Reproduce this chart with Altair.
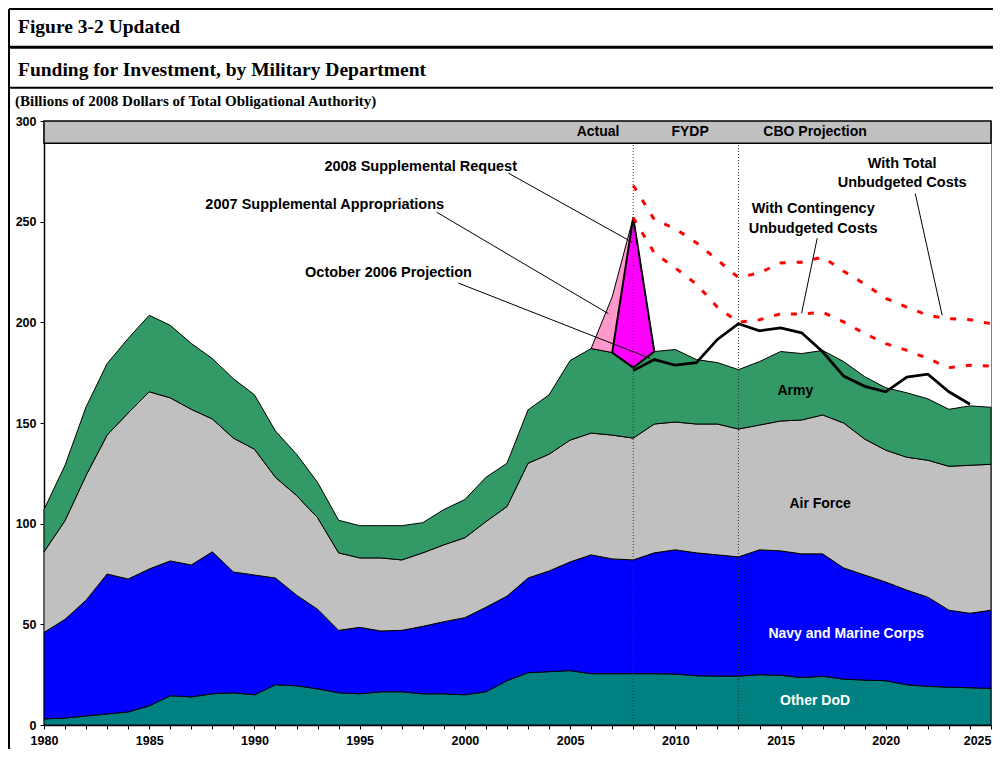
import altair as alt
import pandas as pd

# ---------------- data (cumulative tops, billions of 2008 dollars) ----------------
years = list(range(1980, 2026))
other_dod_top = [3, 3.5, 4.5, 5.5, 6.5, 9.5, 14.5, 14, 15.5, 16, 15, 20, 19.5, 18, 16, 15.5,
                 16.5, 16.5, 15.5, 15.5, 15, 16.5, 22, 26, 26.5, 27, 25.5, 25.5, 25.5, 25.5,
                 25.3, 24.5, 24.3, 24.3, 25, 24.7, 23.6, 24.2, 22.8, 22.3, 22, 20, 19.2, 18.8,
                 18.5, 18.2]
navy_top = [46, 52.5, 62, 75, 72.5, 77.5, 81.5, 79.5, 86, 76, 74.5, 73, 64.5, 57.5, 47, 48.5,
            46.7, 47, 49, 51.3, 53.3, 58.5, 64, 73, 76.5, 81, 84.5, 82.5, 82, 85.5, 87, 85.5,
            84.5, 83.5, 87, 86.5, 85, 85, 78, 74.5, 71, 67, 63.5, 57, 55.5, 57]
air_force_top = [86, 101.5, 124, 144, 155, 165.5, 162.5, 156.8, 152, 142.5, 137, 123, 114, 103,
                 85.5, 83, 83, 82, 85.5, 89.5, 93, 101, 108.5, 130, 134.5, 141.5, 145, 144,
                 142.5, 149.5, 150.5, 149.5, 149.5, 147, 149, 151, 151.5, 154, 150, 142, 136.5,
                 133, 131.5, 128.5, 129, 129.5]
army_top = [107, 129, 158, 179.5, 192, 203.5, 198.5, 189.5, 182, 172, 164, 146, 134.5, 120.5,
            101.7, 99, 99, 99, 100.5, 107, 112, 123, 130, 156.5, 164, 181, 187, 185, 177.5,
            185.5, 186.5, 181.5, 180, 176.5, 180.5, 185.5, 184.5, 186, 180.5, 173, 167.5, 165,
            162, 156.8, 158.5, 157.8]

supp07_years = [2006, 2007, 2008, 2009]
supp07_top = [187, 212.6, 252, 185.5]
supp08_years = [2007, 2008, 2009]
supp08_top = [185, 252, 185.5]

proj_years = list(range(2008, 2025))
oct2006_projection = [176, 181.5, 178.7, 180, 191.5, 199.3, 195.8, 197.2, 194.8, 185.4, 173.3,
                      168.2, 165.5, 172.8, 174.3, 165.5, 159.3]

red_years = list(range(2008, 2026))
with_total_unbudgeted = [268, 251, 246.5, 239.5, 231, 222.2, 224.6, 229.5, 229.9, 232.4, 225.4,
                         219, 211.9, 207.5, 203.5, 201.8, 201.3, 199.3]
with_contingency_unbudgeted = [252, 234.5, 227, 219, 207.5, 200, 201.3, 204.2, 204.2, 205, 200.2,
                               194.4, 189.4, 186.1, 182, 177.5, 178.7, 178.2]

period_breaks = [2008, 2013]
period_names = ["Actual", "FYDP", "CBO Projection"]
period_label_x = [2006.33, 2010.7, 2016.64]

region_names = ["Army", "Air Force", "Navy and Marine Corps", "Other DoD"]
region_x = [2015.7, 2016.88, 2018.12, 2016.64]
region_y = [165.8, 109.7, 45.2, 12.1]
region_colors = ["black", "black", "white", "white"]

note_texts = ["2008 Supplemental Request", "2007 Supplemental Appropriations",
              "October 2006 Projection", "With Contingency\nUnbudgeted Costs",
              "With Total\nUnbudgeted Costs"]
note_x = [1997.9, 1993.34, 1996.37, 2016.55, 2020.78]
note_y = [277.1, 258.1, 224.7, 256.1, 278.8]
leader_x1 = [2002.07, 1998.66, 1999.69, 2016.74, 2021.4]
leader_y1 = [274.1, 254.7, 219.5, 241.7, 264.0]
leader_x2 = [2007.93, 2006.82, 2008.8, 2016.0, 2022.68]
leader_y2 = [239.9, 204.3, 182.1, 204.5, 203.5]

y_ticks = [0, 50, 100, 150, 200, 250, 300]

# ---------------- tables ----------------
df = pd.DataFrame({"year": years, "zero": [0] * len(years), "other": other_dod_top,
                   "navy": navy_top, "af": air_force_top, "army": army_top})
army_map = dict(zip(years, army_top))
df07 = pd.DataFrame({"year": supp07_years, "top": supp07_top,
                     "base": [army_map[y] for y in supp07_years]})
df08 = pd.DataFrame({"year": supp08_years, "top": supp08_top,
                     "base": [army_map[y] for y in supp08_years]})
dfproj = pd.DataFrame({"year": proj_years, "v": oct2006_projection})
dfred = pd.concat([
    pd.DataFrame({"year": red_years, "v": with_total_unbudgeted, "s": "total"}),
    pd.DataFrame({"year": red_years, "v": with_contingency_unbudgeted, "s": "cont"}),
])
dfbreak = pd.DataFrame({"year": period_breaks, "lo": [0] * 2, "hi": [289] * 2})
dfband = pd.DataFrame({"x1": [1980], "x2": [2025], "y1": [289], "y2": [300]})
dfperiod = pd.DataFrame({"x": period_label_x, "y": [294.3] * 3, "t": period_names})
dfregion = pd.DataFrame({"x": region_x, "y": region_y, "t": region_names, "c": region_colors})
dfnote = pd.DataFrame({"x": note_x, "y": note_y, "t": note_texts})
dfleader = pd.DataFrame({"x1": leader_x1, "y1": leader_y1, "x2": leader_x2, "y2": leader_y2})
one = pd.DataFrame({"k": [0]})

# ---------------- scales / axes ----------------
xs = alt.Scale(domain=[1980, 2025], nice=False, zero=False)
ys = alt.Scale(domain=[0, 300], nice=False)
SANS = "Liberation Sans"
SERIF = "Liberation Serif"
xaxis = alt.Axis(values=years, title=None, grid=False, tickSize=4, tickColor="black",
                 domainColor="black", domainWidth=1.5, labelFont=SANS, labelFontWeight="bold",
                 labelFontSize=12.5, labelColor="black", labelPadding=5, labelFlush=False,
                 labelOverlap=False, labelExpr="datum.value % 5 == 0 ? datum.label : ''",
                 labelAlign={"condition": {"test": "datum.value == 2025", "value": "right"},
                             "value": "center"},
                 format="d")
yaxis = alt.Axis(values=y_ticks, title=None, grid=False, tickSize=4, tickColor="black",
                 domainColor="black", domainWidth=1.5, labelFont=SANS, labelFontWeight="bold",
                 labelFontSize=12.5, labelColor="black", labelPadding=4)


def X(f):
    return alt.X(f, type="quantitative", scale=xs, axis=xaxis)


def Y(f):
    return alt.Y(f, type="quantitative", scale=ys, axis=yaxis)


def layer_area(lo, hi, color):
    return alt.Chart(df).mark_area(fill=color, stroke="black", strokeWidth=1,
                                   strokeJoin="miter").encode(
        x=X("year"), y=Y(hi), y2=alt.Y2(lo))


areas = [layer_area("zero", "other", "#008080"),
         layer_area("other", "navy", "#0000FF"),
         layer_area("navy", "af", "#C0C0C0"),
         layer_area("af", "army", "#339966")]

pink = alt.Chart(df07).mark_area(fill="#FF99CC", stroke="black", strokeWidth=1).encode(
    x=X("year"), y=Y("top"), y2=alt.Y2("base"))
magenta = alt.Chart(df08).mark_area(fill="#FF00FF", stroke="black", strokeWidth=2).encode(
    x=X("year"), y=Y("top"), y2=alt.Y2("base"))

breaks = alt.Chart(dfbreak).mark_rule(color="#333333", strokeWidth=1, strokeDash=[1, 2]).encode(
    x=X("year"), y=Y("lo"), y2=alt.Y2("hi"))

proj = alt.Chart(dfproj).mark_line(color="black", strokeWidth=2.75).encode(x=X("year"), y=Y("v"))
red = alt.Chart(dfred).mark_line(color="#FF0000", strokeWidth=3, strokeDash=[6, 11],
                                 strokeCap="butt").encode(
    x=X("year"), y=Y("v"), detail="s:N")

leaders = alt.Chart(dfleader).mark_rule(color="black", strokeWidth=1).encode(
    x=X("x1"), y=Y("y1"), x2=alt.X2("x2"), y2=alt.Y2("y2"))

notes = alt.Chart(dfnote).mark_text(font=SANS, fontWeight="bold", fontSize=14.5, color="black",
                                    align="center", baseline="middle", lineBreak="\n",
                                    lineHeight=19.5).encode(
    x=X("x"), y=Y("y"), text="t:N")

regions = alt.Chart(dfregion).mark_text(font=SANS, fontWeight="bold", fontSize=14,
                                        align="center", baseline="middle").encode(
    x=X("x"), y=Y("y"), text="t:N", color=alt.Color("c:N", scale=None))

band = alt.Chart(dfband).mark_rect(fill="#C0C0C0", stroke="black", strokeWidth=1.5).encode(
    x=X("x1"), x2=alt.X2("x2"), y=Y("y1"), y2=alt.Y2("y2"))
band_text = alt.Chart(dfperiod).mark_text(font=SANS, fontWeight="bold", fontSize=14,
                                          color="black", align="center",
                                          baseline="middle").encode(
    x=X("x"), y=Y("y"), text="t:N")

# ---------------- header decoration (page furniture, outside the plot) ----------------
def hdr_text(txt, x, y, size):
    return alt.Chart(one).mark_text(text=txt, font=SERIF, fontWeight="bold", fontSize=size,
                                    color="black", align="left", baseline="alphabetic").encode(
        x=alt.value(x), y=alt.value(y))


def hdr_rule(x, x2, y, y2, w):
    return alt.Chart(one).mark_rule(color="black", strokeWidth=w).encode(
        x=alt.value(x), x2=alt.value(x2), y=alt.value(y), y2=alt.value(y2))


header = [
    hdr_text("Figure 3-2 Updated", -26, -88, 19.5),
    hdr_text("Funding for Investment, by Military Department", -26, -45, 19.5),
    hdr_text("(Billions of 2008 Dollars of Total Obligational Authority)", -29, -15, 15),
    hdr_rule(-36, 949, -73.7, -73.7, 3),
    hdr_rule(-36, 949, -33.3, -33.3, 2),
    hdr_rule(-35, 949, -112, -112, 2),
    hdr_rule(-35, -35, -112, 640, 2),
]

chart = alt.layer(*areas, pink, magenta, breaks, proj, red, leaders, notes, regions, band,
                  band_text, *header).properties(
    width=947, height=604,
    padding={"left": 36, "top": 113, "right": 2, "bottom": 24},
    autosize=alt.AutoSizeParams(type="none"),
    background="white",
).configure_view(stroke="#808080", strokeWidth=1)

chart.save("out.html", embed_options={"renderer": "svg", "actions": False})
